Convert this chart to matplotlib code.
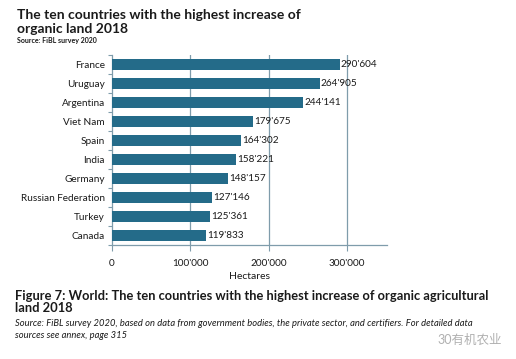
import numpy as np
from matplotlib import pyplot as plt
plt.rcParams['font.family'] = ['Lato', 'Noto Sans CJK SC', 'DejaVu Sans']

countries = ["France", "Uruguay", "Argentina", "Viet Nam", "Spain", "India",
             "Germany", "Russian Federation", "Turkey", "Canada"]
hectares = [290604, 264905, 244141, 179675, 164302, 158221,
            148157, 127146, 125361, 119833]
xticks = [0, 100000, 200000, 300000]

bar_color = "#246b89"
grid_color = "#7f9cab"
text_color = "#1a1a1a"


def fmt(v):
    return "{:,}".format(int(v)).replace(",", "'")


fig = plt.figure(figsize=(5.16, 3.59), dpi=100)
ax = fig.add_axes([112 / 516, 1 - 245 / 359, 275 / 516, 190 / 359])

y = np.arange(len(countries))
ax.barh(y, hectares, height=0.62, color=bar_color, zorder=3)
for yi, v in zip(y, hectares):
    ax.text(v + 1500, yi, fmt(v), va="center", ha="left", fontsize=7.2,
            color=text_color, zorder=4)

ax.set_ylim(len(countries) - 0.5, -0.5)
ax.set_xlim(0, 351000)
ax.set_yticks(y)
ax.set_yticklabels(countries, fontsize=7.2, color=text_color)
ax.set_yticks(np.arange(len(countries) + 1) - 0.5, minor=True)
ax.tick_params(axis="y", which="major", length=0, pad=5)
ax.tick_params(axis="y", which="minor", length=3, color=grid_color, width=0.8)

ax.set_xticks(xticks)
ax.set_xticklabels([fmt(t) for t in xticks], fontsize=7.2, color=text_color)
ax.tick_params(axis="x", length=4, color=grid_color, width=0.8, pad=6)
ax.set_xlabel("Hectares", fontsize=7.5, color=text_color, labelpad=3)

for t in xticks[1:]:
    ax.axvline(t, color=grid_color, lw=0.9, zorder=1)

for pos in ["top", "right"]:
    ax.spines[pos].set_visible(False)
for pos in ["left", "bottom"]:
    ax.spines[pos].set_color(grid_color)
    ax.spines[pos].set_linewidth(0.9)

fig.text(17 / 516, 1 - 22 / 359, "The ten countries with the highest increase of\norganic land 2018",
         fontsize=10, fontweight="bold", color=text_color, va="center", linespacing=1.25)
fig.text(17 / 516, 1 - 41 / 359, "Source: FiBL survey 2020", fontsize=5,
         fontweight="bold", color=text_color, va="center")

fig.text(15 / 516, 1 - 302 / 359,
         "Figure 7: World: The ten countries with the highest increase of organic agricultural\nland 2018",
         fontsize=9.3, fontweight="bold", color=text_color, va="center", linespacing=1.1)
# source note, one text per line
fig.text(15 / 516, 1 - 324 / 359,
         "Source: FiBL survey 2020, based on data from government bodies, the private sector, and certifiers. For detailed data",
         fontsize=6.75, style="italic", color=text_color, va="center")
fig.text(15 / 516, 1 - 336 / 359, "sources see annex, page 315",
         fontsize=6.75, style="italic", color=text_color, va="center")
fig.text(437 / 516, 1 - 340 / 359, "30有机农业", fontsize=9, color="#b0b0b0",
         va="center", ha="left")

fig.savefig("out.png", dpi=100)
